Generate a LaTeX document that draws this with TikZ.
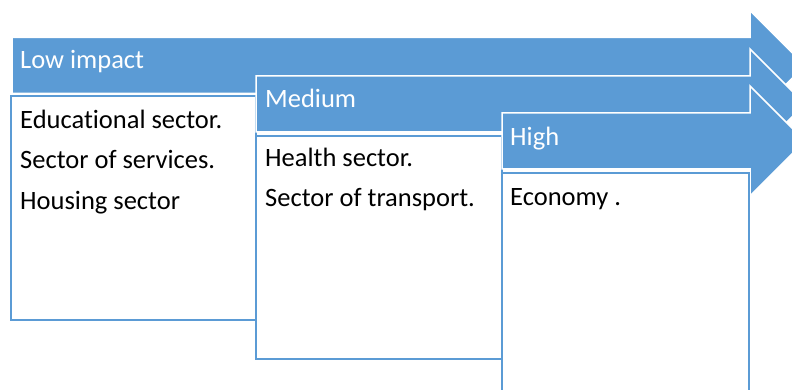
\documentclass[tikz,border=0pt]{standalone}
\usepackage{fontspec}
\setmainfont{Carlito}[Ligatures=NoCommon]
\definecolor{accent}{HTML}{5B9BD5}
\begin{document}
\begin{tikzpicture}[x=1pt,y=-1pt,
  arrowshape/.style={fill=accent,draw=white,line width=1.5pt,line join=miter},
  panel/.style={draw=accent,line width=2pt,fill=white,anchor=north west,inner sep=0pt,outer sep=0pt},
  title/.style={anchor=base west,inner sep=0pt,text=white,font=\fontsize{26.5}{30}\selectfont},
  item/.style={anchor=base west,inner sep=0pt,text=black,font=\fontsize{26.5}{30}\selectfont}]
\useasboundingbox (0,0) rectangle (792,390);
\clip (0,0) rectangle (792,390);
% arrow 1
\path[arrowshape] (12,37.5) -- (750,37.5) -- (750,10.5) -- (805,65.5) -- (750,120.5) -- (750,93.5) -- (12,93.5) -- cycle;
\node[panel,minimum width=245pt,minimum height=224pt] (box1) at (11,96) {};
% arrow 2
\path[arrowshape] (256,76) -- (750,76) -- (750,49) -- (805,104) -- (750,159) -- (750,132) -- (256,132) -- cycle;
\node[panel,minimum width=246pt,minimum height=223pt] (box2) at (256,136) {};
% arrow 3
\path[arrowshape] (502,113) -- (750,113) -- (750,86) -- (805,141) -- (750,196) -- (750,169) -- (502,169) -- cycle;
\node[panel,minimum width=247pt,minimum height=230pt] (box3) at (502,173) {};
% titles
\node[title] (t1) at (20,69) {Low impact};
\node[title] (t2) at (265,108) {Medium};
\node[title] (t3) at (510,146) {High};
% items
\node[item] (a1) at (20,129) {Educational sector.};
\node[item] (a2) at (20,169) {Sector of services.};
\node[item] (a3) at (20,209) {Housing sector};
\node[item] (b1) at (265,167) {Health sector.};
\node[item] (b2) at (265,207) {Sector of transport.};
\node[item] (c1) at (510,205) {Economy .};
\end{tikzpicture}
\end{document}
